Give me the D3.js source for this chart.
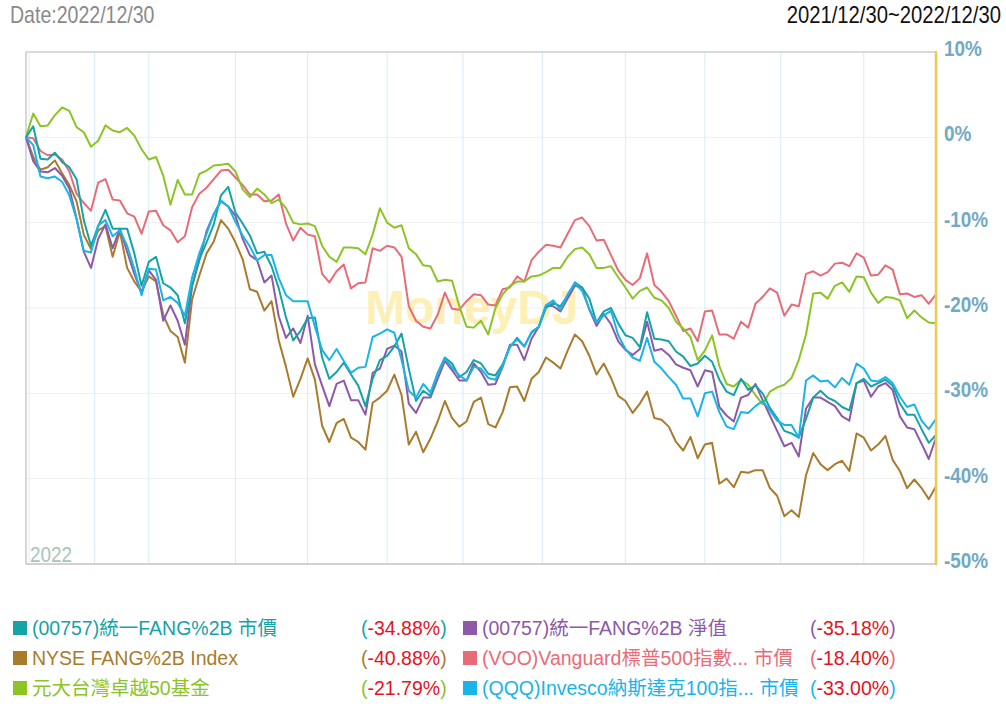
<!DOCTYPE html>
<html>
<head>
<meta charset="utf-8">
<script src="https://cdn.jsdelivr.net/npm/d3@7"></script>
<style>
  body { margin: 0; background: #fff; }
</style>
</head>
<body>
<svg id="chart" width="1006" height="708"></svg>
<script>
// trading days per month, one point every 2 trading days
var monthDays = [19, 15, 24, 20, 22, 21, 22, 23, 22, 21, 23, 20];
var monthLabels = ["2021/12/30", "", "", "04", "", "", "07", "", "", "10", "", ""];
var step = 2;
var yTicks = [10, 0, -10, -20, -30, -40, -50];

var fangPrice = [0,1.3,-2.5,-2.6,-1.8,-2.9,-3.5,-4.9,-9.7,-12.7,
  -10.4,-8.5,-10.7,-10.7,-10.7,-13.6,-17.4,-14.6,-14.0,-17.1,
  -17.6,-18.5,-21.8,-17.4,-14.3,-12.3,-10.2,-6.8,-5.8,-8.8,
  -10.1,-11.5,-13.6,-13.4,-15.1,-17.7,-21.1,-23.8,-22.7,-21.2,
  -21.1,-25.8,-28.3,-27.5,-26.4,-27.8,-29.1,-31.5,-28.3,-26.1,
  -25.6,-24.5,-23.0,-27.1,-30.9,-29.7,-30.3,-27.6,-25.8,-26.5,
  -28.1,-27.5,-26.1,-26.5,-27.7,-27.9,-26.6,-24.6,-23.5,-24.5,
  -22.9,-22.2,-20.0,-19.4,-19.8,-18.5,-17.0,-17.6,-18.9,-21.7,
  -20.4,-20.0,-21.8,-23.2,-23.5,-24.6,-20.5,-23.6,-23.7,-23.9,
  -25.1,-25.7,-26.8,-26.5,-25.6,-26.3,-28.4,-29.8,-30.2,-28.3,
  -29.6,-29.1,-30.0,-31.7,-32.9,-34.4,-34.7,-35.2,-33.0,-30.5,
  -29.7,-30.5,-30.9,-31.6,-32.0,-28.8,-28.3,-29.2,-28.8,-28.4,
  -29.1,-31.2,-32.5,-32.5,-34.2,-35.8,-34.88];
var fangNav = [0,-2.8,-4.0,-4.1,-3.6,-4.5,-6.0,-9.5,-13.4,-15.3,
  -11.9,-10.2,-13.0,-10.7,-13.4,-16.0,-18.2,-15.6,-16.7,-21.5,
  -19.7,-21.5,-24.3,-17.4,-14.4,-11.0,-9.0,-7.5,-8.1,-9.2,
  -11.9,-13.8,-14.4,-17.0,-16.2,-21.0,-23.5,-22.4,-24.1,-20.9,
  -26.6,-29.1,-31.5,-28.9,-28.5,-30.8,-30.8,-32.5,-27.6,-27.1,
  -24.8,-24.4,-25.1,-31.2,-32.3,-30.5,-30.5,-28.3,-26.2,-27.3,
  -28.5,-28.5,-26.5,-27.5,-29.0,-28.9,-26.9,-24.3,-24.3,-26.1,
  -23.6,-22.2,-19.7,-19.8,-20.4,-18.9,-17.4,-17.6,-20.2,-22.1,
  -20.7,-21.9,-23.9,-24.9,-25.5,-24.8,-21.6,-25.0,-24.8,-25.5,
  -26.6,-27.0,-27.3,-29.2,-27.3,-27.5,-31.6,-32.6,-33.3,-30.5,
  -30.2,-28.9,-30.8,-32.6,-34.4,-36.2,-35.8,-37.4,-31.8,-30.5,
  -30.5,-31.0,-31.5,-32.7,-33.2,-28.8,-28.5,-30.4,-29.2,-28.8,
  -29.6,-32.7,-34.0,-34.2,-35.9,-37.7,-35.18];
var fangIndex = [0,-2.3,-3.8,-3.5,-2.7,-4.2,-5.6,-7.5,-11.4,-13.1,
  -10.9,-10.4,-14.0,-11.0,-15.3,-16.9,-18.1,-16.3,-16.9,-20.8,
  -22.7,-23.4,-26.4,-19.0,-16.2,-13.6,-12.2,-9.7,-10.7,-12.3,
  -14.3,-17.8,-18.1,-20.3,-19.2,-23.8,-26.9,-30.4,-28.3,-25.9,
  -28.4,-33.8,-35.7,-33.5,-33.0,-35.2,-35.7,-36.6,-31.1,-30.5,
  -29.7,-27.8,-30.2,-36.0,-34.5,-36.9,-35.3,-33.3,-30.9,-32.9,
  -33.9,-33.3,-31.0,-30.5,-33.6,-34.0,-32.2,-29.3,-29.2,-30.9,
  -28.3,-27.5,-25.8,-26.4,-27.1,-25.0,-23.1,-23.9,-25.6,-27.8,
  -26.5,-28.2,-30.3,-30.9,-32.3,-31.2,-29.8,-32.9,-33.1,-33.9,
  -35.7,-36.7,-35.1,-37.6,-36.0,-35.8,-40.6,-40.0,-41.0,-39.2,
  -39.3,-39.0,-39.0,-41.1,-42.0,-44.4,-43.7,-44.5,-39.6,-37.0,
  -38.3,-39.0,-38.3,-37.9,-39.1,-34.7,-35.2,-36.7,-36.0,-35.0,
  -37.8,-39.1,-41.1,-40.1,-41.1,-42.4,-40.88];
var voo = [0,-0.1,-1.6,-2.1,-2.0,-2.6,-4.0,-6.6,-7.7,-8.6,
  -5.3,-4.9,-7.3,-7.4,-8.9,-9.3,-11.3,-8.7,-8.6,-10.3,
  -10.9,-12.3,-11.6,-8.2,-6.6,-5.9,-4.9,-3.9,-3.8,-4.7,
  -5.6,-6.7,-6.7,-7.5,-7.4,-6.7,-10.1,-12.1,-10.6,-11.4,
  -11.6,-16.0,-17.0,-15.7,-14.9,-17.7,-17.1,-17.0,-13.0,-13.3,
  -12.7,-12.9,-14.0,-19.8,-21.5,-22.2,-22.4,-20.8,-18.2,-20.1,
  -20.2,-19.2,-18.4,-18.5,-19.6,-19.7,-17.8,-17.6,-16.3,-16.9,
  -14.4,-13.4,-12.6,-12.7,-12.9,-11.3,-9.7,-9.4,-10.4,-12.1,
  -12.0,-13.8,-15.6,-16.7,-17.3,-16.5,-13.6,-17.3,-18.1,-19.2,
  -20.9,-22.7,-22.4,-23.9,-20.4,-20.3,-23.1,-23.1,-23.6,-21.6,
  -22.3,-19.5,-18.7,-17.7,-18.2,-20.9,-19.6,-19.8,-16.0,-15.7,
  -16.2,-15.8,-14.8,-14.7,-15.1,-13.6,-14.1,-16.2,-16.1,-15.0,
  -15.5,-18.4,-18.3,-18.7,-18.5,-19.5,-18.40];
var tw50 = [0,2.8,1.3,1.4,2.6,3.5,3.1,1.2,0.6,-1.1,
  -0.4,1.4,0.8,0.6,1.1,0.2,-1.4,-2.6,-2.3,-4.5,
  -7.9,-5.0,-6.7,-6.7,-4.3,-3.9,-3.3,-3.2,-3.1,-4.0,
  -6.1,-7.0,-6.0,-6.7,-7.7,-7.3,-8.3,-10.0,-10.2,-10.1,
  -10.4,-12.7,-14.0,-14.6,-12.9,-12.9,-13.0,-13.7,-11.4,-8.3,
  -10.0,-10.6,-10.3,-13.0,-13.7,-15.0,-15.1,-16.9,-16.7,-16.8,
  -19.8,-22.2,-22.3,-21.5,-23.1,-20.0,-18.4,-17.4,-16.9,-16.9,
  -16.3,-16.2,-15.8,-15.3,-15.3,-14.0,-13.1,-12.9,-13.7,-15.3,
  -15.3,-15.1,-16.4,-17.6,-18.9,-18.0,-17.6,-18.8,-19.1,-20.0,
  -21.6,-22.4,-23.4,-26.1,-25.0,-23.2,-26.8,-28.9,-29.2,-28.4,
  -29.0,-30.2,-31.3,-29.8,-29.3,-29.0,-28.2,-26.1,-23.1,-18.3,
  -18.2,-18.9,-17.4,-17.0,-18.1,-16.3,-16.4,-18.2,-19.4,-18.7,
  -18.8,-19.1,-21.2,-20.3,-21.1,-21.7,-21.79];
var qqq = [0,-0.9,-4.6,-4.8,-4.6,-5.2,-6.8,-9.6,-13.3,-13.5,
  -10.3,-9.7,-11.6,-10.9,-12.7,-15.4,-18.5,-15.4,-15.5,-19.1,
  -18.7,-19.4,-20.9,-16.4,-13.6,-11.3,-9.0,-7.4,-8.1,-9.9,
  -11.5,-12.8,-14.4,-13.8,-13.8,-16.5,-18.5,-19.2,-19.2,-19.2,
  -22.2,-24.9,-26.1,-24.8,-26.2,-27.6,-27.0,-26.9,-23.4,-23.0,
  -22.5,-22.9,-26.1,-29.7,-30.5,-28.9,-29.9,-27.7,-25.9,-27.0,
  -27.9,-28.5,-26.9,-27.1,-28.2,-28.4,-26.8,-24.5,-23.7,-24.5,
  -22.8,-22.2,-19.7,-19.1,-20.2,-18.4,-17.1,-18.0,-20.1,-21.7,
  -20.9,-20.3,-23.2,-24.8,-25.8,-26.2,-23.5,-26.3,-27.1,-28.1,
  -29.0,-30.6,-30.6,-32.7,-30.0,-29.8,-32.2,-33.9,-34.2,-32.2,
  -32.3,-31.5,-30.9,-32.0,-33.2,-33.7,-33.7,-35.2,-28.5,-27.9,
  -28.6,-28.5,-29.3,-28.2,-29.0,-26.5,-27.1,-28.5,-28.6,-28.1,
  -28.8,-30.4,-31.6,-31.3,-33.2,-34.2,-33.00];

var seriesNames = ["(00757)統一FANG%2B 市價", "(00757)統一FANG%2B 淨值",
  "NYSE FANG%2B Index", "(VOO)Vanguard標普500指數... 市價",
  "元大台灣卓越50基金", "(QQQ)Invesco納斯達克100指... 市價"];
var seriesReturns = ["-34.88", "-35.18", "-40.88", "-18.40", "-21.79", "-33.00"];

(function () {
    var svg = d3.select("#chart"),
        left = 26, right = 936, top = 52, bottom = 564,
        sans = "'Liberation Sans',Arial,sans-serif",
        legendFont = "'Liberation Sans','Noto Sans CJK TC',Arial,sans-serif",
        colors = ["#16a3a6", "#8d59a8", "#a97b2d", "#e86c78", "#8cc425", "#1ab4e8"],
        values = [fangPrice, fangNav, fangIndex, voo, tw50, qqq];

    var x = d3.scaleLinear().domain([0, d3.sum(monthDays)]).range([left, right]);
    var y = d3.scaleLinear().domain([-50, 10]).range([bottom, top]);
    var monthStart = d3.cumsum([0].concat(monthDays.slice(0, -1)));

    // condensed looking text (no narrow font installed)
    function narrowText(g, px, py, str, size, fill, anchor, sx) {
        return g.append("text")
            .attr("transform", "translate(" + px + "," + py + ") scale(" + (sx || 0.86) + ",1)")
            .attr("text-anchor", anchor || "start")
            .style("font-family", sans).style("font-size", size + "px").style("fill", fill)
            .text(str);
    }

    // header
    narrowText(svg, 10, 23, "Date:2022/12/30", 23, "#8a8a8a", "start", 0.85);
    narrowText(svg, 1001, 23, "2021/12/30~2022/12/30", 23, "#111", "end", 0.88);

    // grid
    svg.append("g").selectAll("line").data(yTicks).enter().append("line")
        .attr("x1", left).attr("x2", right)
        .attr("y1", function (d) { return y(d); }).attr("y2", function (d) { return y(d); })
        .style("stroke", "#efefef").style("stroke-width", 1);
    svg.append("g").selectAll("line").data(monthStart.slice(1)).enter().append("line")
        .attr("x1", function (d) { return x(d); }).attr("x2", function (d) { return x(d); })
        .attr("y1", top).attr("y2", bottom)
        .style("stroke", "#d6ecf6").style("stroke-width", 1);

    // watermark
    svg.append("text").attr("x", 472).attr("y", 324).attr("text-anchor", "middle")
        .style("font-family", sans).style("font-weight", "bold")
        .style("font-size", "48px").style("fill", "#fcebA0").style("opacity", 0.75)
        .text("MoneyDJ");

    narrowText(svg, 30, 562, "2022", 22, "#a6c6b8");

    // frame
    svg.append("line").attr("x1", left).attr("x2", right).attr("y1", top).attr("y2", top)
        .style("stroke", "#d0d0d0").style("stroke-width", 1.5);
    svg.append("line").attr("x1", left).attr("x2", left).attr("y1", top).attr("y2", bottom)
        .style("stroke", "#c8c8c8").style("stroke-width", 1.5);
    svg.append("line").attr("x1", left + 3).attr("x2", left + 3).attr("y1", top).attr("y2", bottom)
        .style("stroke", "#dcecf4").style("stroke-width", 1);
    svg.append("line").attr("x1", left).attr("x2", right).attr("y1", bottom).attr("y2", bottom)
        .style("stroke", "#c4c4c4").style("stroke-width", 1.5);

    // lines
    var line = d3.line()
        .x(function (d, i) { return x(i * step); })
        .y(function (d) { return y(d); });
    [2, 3, 4, 1, 0, 5].forEach(function (k) {
        svg.append("path").datum(values[k])
            .attr("d", line)
            .style("fill", "none").style("stroke", colors[k])
            .style("stroke-width", 2).style("stroke-linejoin", "round");
    });

    svg.append("line").attr("x1", right).attr("x2", right).attr("y1", top - 1).attr("y2", bottom + 1)
        .style("stroke", "#f1c84f").style("stroke-width", 2.5);

    // y axis labels
    var yl = svg.append("g");
    yTicks.forEach(function (d) {
        narrowText(yl, right + 8, y(d) + 4, d + "%", 22, "#72aac3").style("font-weight", "bold");
    });

    // x axis ticks + labels
    var labelled = monthStart.map(function (d, i) { return {day: d, label: monthLabels[i]}; })
        .filter(function (d) { return d.label; });
    svg.append("g").selectAll("line").data(labelled).enter().append("line")
        .attr("x1", function (d) { return x(d.day); }).attr("x2", function (d) { return x(d.day); })
        .attr("y1", bottom).attr("y2", bottom + 6)
        .style("stroke", "#c4c4c4").style("stroke-width", 1.5);
    var xl = svg.append("g");
    labelled.forEach(function (d, i) {
        narrowText(xl, i === 0 ? 12 : x(d.day), 592, d.label, 22, "#72aac3", i === 0 ? "start" : "middle");
    });

    // legend
    var order = [0, 1, 2, 3, 4, 5];
    var legend = svg.append("g").selectAll("g").data(order).enter().append("g")
        .attr("transform", function (k) {
            return "translate(" + (k % 2 ? 463 : 13) + "," + (628 + 30 * Math.floor(k / 2)) + ")";
        });
    legend.append("rect").attr("x", 0).attr("y", -7).attr("width", 14).attr("height", 14)
        .style("fill", function (k) { return colors[k]; });
    legend.append("text").attr("x", 19).attr("y", 7)
        .style("font-family", legendFont).style("font-size", "19.5px")
        .style("fill", function (k) { return colors[k]; })
        .text(function (k) { return seriesNames[k]; });
    var pct = legend.append("text").attr("x", function (k) { return k % 2 ? 347 : 348; }).attr("y", 7)
        .style("font-family", legendFont).style("font-size", "19.5px")
        .style("fill", function (k) { return colors[k]; });
    pct.append("tspan").text("(");
    pct.append("tspan").style("fill", "#e5131d").text(function (k) { return seriesReturns[k] + "%"; });
    pct.append("tspan").text(")");
}());
</script>
</body>
</html>
